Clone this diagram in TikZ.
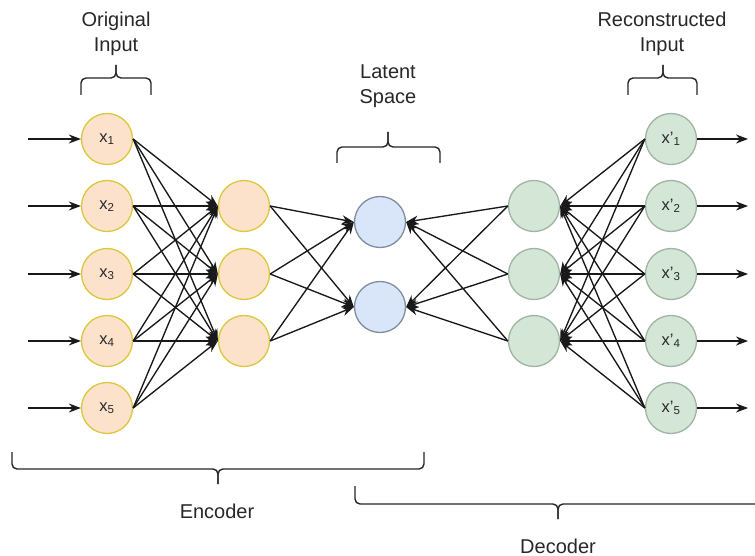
\documentclass[tikz,border=0pt]{standalone}
\usepackage{fontspec}
\setmainfont{Liberation Sans}
\usetikzlibrary{arrows.meta}
\definecolor{txt}{RGB}{40,40,40}
\definecolor{encfill}{RGB}{252,226,203}
\definecolor{encline}{RGB}{220,200,60}
\definecolor{latfill}{RGB}{217,230,250}
\definecolor{latline}{RGB}{130,140,160}
\definecolor{decfill}{RGB}{212,230,214}
\definecolor{decline}{RGB}{160,180,165}
\tikzset{
  neuron/.style={circle, minimum size=51pt, inner sep=0pt, line width=1.3pt,
    font=\fontsize{16.5}{16.5}\selectfont, text=txt},
  encnode/.style={neuron, draw=encline, fill=encfill},
  latnode/.style={neuron, draw=latline, fill=latfill},
  decnode/.style={neuron, draw=decline, fill=decfill},
  conn/.style={line width=1.35pt, draw=black!90, -{Stealth[length=12pt,width=9pt]}},
  bracket/.style={line width=1.4pt, draw=black!85, rounded corners=5pt},
  heading/.style={align=center, text=txt, font=\fontsize{20}{25}\selectfont, inner sep=0pt}
}
\begin{document}
\begin{tikzpicture}[x=1pt,y=-1pt]
\useasboundingbox (0,0) rectangle (755,556);
\fill[white] (0,0) rectangle (755,556);

% input layer and reconstructed output layer
\foreach \i/\y in {1/139,2/206,3/274,4/341,5/408}{
  \node[encnode] (in\i) at (107,\y) {x\textsubscript{\i}};
  \node[decnode] (out\i) at (671,\y) {x'\textsubscript{\i}};
  \coordinate (s\i) at (28,\y);
  \coordinate (t\i) at (748,\y);
}
% hidden layers
\foreach \j/\y in {1/206,2/274,3/341}{
  \node[encnode] (h\j) at (244,\y) {};
  \node[decnode] (d\j) at (534,\y) {};
}
% latent space
\node[latnode] (z1) at (380,222) {};
\node[latnode] (z2) at (380,307) {};

% connections
\foreach \i in {1,...,5}{
  \draw[conn] (s\i) -- (in\i.west);
  \draw[conn] (out\i.east) -- (t\i);
  \foreach \j in {1,2,3}{
    \draw[conn] (in\i.east) -- (h\j.west);
    \draw[conn] (out\i.west) -- (d\j.east);
  }
}
\foreach \j in {1,2,3}{
  \foreach \k in {1,2}{
    \draw[conn] (h\j.east) -- (z\k.west);
    \draw[conn] (d\j.west) -- (z\k.east);
  }
}

% brackets over the layers
\draw[bracket] (81,95) |- (116,78) -- (116,65);
\draw[bracket] (151,95) |- (116,78) -- (116,65);
\draw[bracket] (337,163) |- (388,147) -- (388,132);
\draw[bracket] (440,163) |- (388,147) -- (388,132);
\draw[bracket] (628,95) |- (663,78) -- (663,65);
\draw[bracket] (697,95) |- (663,78) -- (663,65);
% brackets under the network
\draw[bracket] (12,452) |- (218,469) -- (218,484);
\draw[bracket] (424,452) |- (218,469) -- (218,484);
\draw[bracket] (355,486) |- (558,504) -- (558,519);
\draw[bracket] (760,504) -- (558,504) -- (558,519);

% labels
\node[heading] (lin) at (116,34) {Original\\Input};
\node[heading] (llat) at (388,86) {Latent\\Space};
\node[heading] (lout) at (662,34) {Reconstructed\\Input};
\node[heading] (lenc) at (217,511) {Encoder};
\node[heading] (ldec) at (558,546) {Decoder};
\end{tikzpicture}
\end{document}
